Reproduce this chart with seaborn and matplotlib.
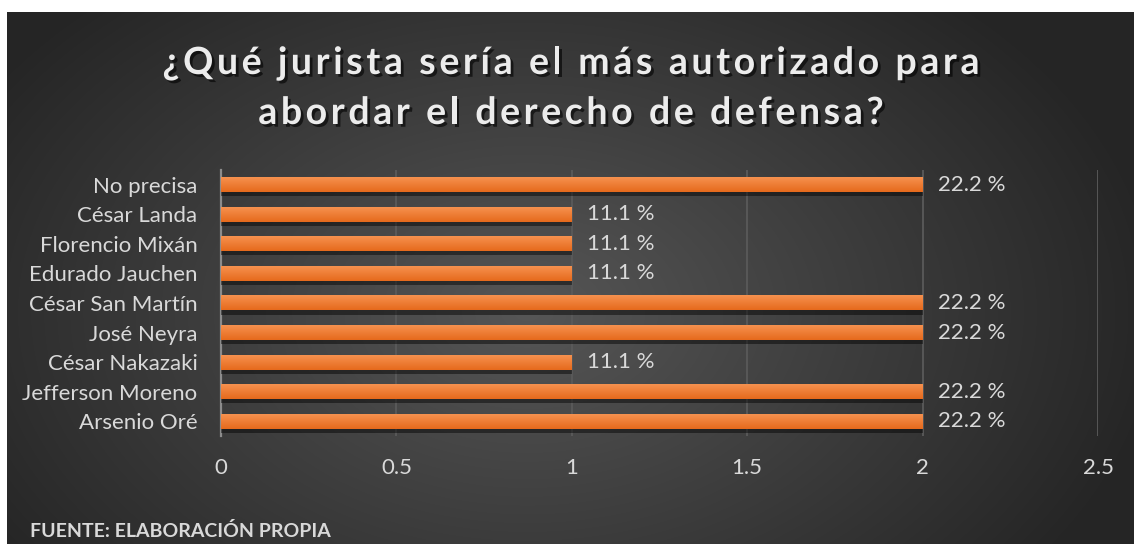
import numpy as np
import pandas as pd
import matplotlib
matplotlib.use('Agg')
import matplotlib.pyplot as plt
import matplotlib.patheffects as pe
from matplotlib.colors import LinearSegmentedColormap
import seaborn as sns

# datos
juristas = ["No precisa", "César Landa", "Florencio Mixán", "Edurado Jauchen",
            "César San Martín", "José Neyra", "César Nakazaki", "Jefferson Moreno",
            "Arsenio Oré"]
frecuencia = [2, 1, 1, 1, 2, 2, 1, 2, 2]
porcentaje = ["22.2 %", "11.1 %", "11.1 %", "11.1 %", "22.2 %", "22.2 %",
              "11.1 %", "22.2 %", "22.2 %"]
x_ticks = [0, 0.5, 1, 1.5, 2, 2.5]
x_tick_labels = ["0", "0.5", "1", "1.5", "2", "2.5"]

titulo = ["¿Qué jurista sería el más autorizado para",
          "abordar el derecho de defensa?"]
fuente = "FUENTE: ELABORACIÓN PROPIA"

sns.set_style("dark")
plt.rcParams['font.family'] = ['Lato', 'DejaVu Sans']

W, H = 1134, 544
fig = plt.figure(figsize=(W / 100, H / 100), dpi=100, facecolor='white')


def texto_espaciado(fig, linea, xc, yc, tracking, **kw):
    """Escribe una linea centrada en (xc, yc) px con espacio extra entre letras."""
    renderer = fig.canvas.get_renderer()

    def ancho(s):
        t = fig.text(0, 0, s + '|', **kw)
        w1 = t.get_window_extent(renderer).width
        t.remove()
        return w1

    base = ancho('')
    pos = [ancho(linea[:i]) - base for i in range(len(linea))]
    total = ancho(linea) - base + tracking * (len(linea) - 1)
    x0 = xc - total / 2
    for i, ch in enumerate(linea):
        fig.text((x0 + pos[i] + i * tracking) / W, 1 - yc / H, ch,
                 ha='left', va='center', **kw)


# fondo oscuro con degradado radial
bg = fig.add_axes([7 / W, 0, 1 - 7 / W, 1 - 12 / H])
bg.set_axis_off()
h, w = H - 12, W - 7
yy, xx = np.mgrid[0:h, 0:w]
r = np.sqrt(((xx - 520) / 640) ** 2 + ((yy - 300) / 430) ** 2)
r = np.clip(r, 0, 1)
c0, c1 = 0x56 / 255, 0x25 / 255
img = c0 + (c1 - c0) * r
bg.imshow(np.dstack([img, img, img]), aspect='auto', interpolation='bilinear')

ax = fig.add_axes([221 / W, 1 - 436 / H, 877 / W, 266 / H])
ax.set_facecolor('none')

df = pd.DataFrame({'jurista': juristas, 'frecuencia': frecuencia})
sns.barplot(data=df, x='frecuencia', y='jurista', orient='h', width=0.5,
            color='#ED7D31', linewidth=0, ax=ax, zorder=3)

naranja = LinearSegmentedColormap.from_list('naranja', ['#E66A1C', '#F6914F'])
for bar in ax.patches:
    x0, y0 = bar.get_x(), bar.get_y()
    bw, bh = bar.get_width(), bar.get_height()
    bar.set_path_effects([pe.SimplePatchShadow(offset=(0, -3), shadow_rgbFace='black', alpha=0.45),
                          pe.Normal()])
    grad = np.linspace(1, 0, 50).reshape(-1, 1)
    ax.imshow(grad, cmap=naranja, extent=[x0, x0 + bw, y0 + bh, y0],
              aspect='auto', zorder=4, clip_path=bar, clip_on=True)

ax.set_xlim(0, 2.5)
ax.set_ylim(len(juristas) - 0.5, -0.5)
ax.set_xticks(x_ticks)
ax.set_xticklabels(x_tick_labels)
ax.set_xlabel('')
ax.set_ylabel('')

ax.xaxis.grid(True, color='#5a5a5a', linewidth=1.3, zorder=0)
ax.yaxis.grid(False)
ax.set_axisbelow(True)
for side in ['top', 'right', 'bottom']:
    ax.spines[side].set_visible(False)
ax.spines['left'].set_visible(True)
ax.spines['left'].set_color('#8c8c8c')
ax.spines['left'].set_linewidth(1.6)

ax.tick_params(axis='x', length=0, pad=16, labelsize=16, labelcolor='#d9d9d9')
ax.tick_params(axis='y', length=0, pad=17, labelsize=16, labelcolor='#d9d9d9')

ax.bar_label(ax.containers[0], labels=porcentaje, padding=11,
             color='#d9d9d9', fontsize=16)

sombra = [pe.withSimplePatchShadow(offset=(2, -2), shadow_rgbFace='black', alpha=0.6)]
for linea, yc in zip(titulo, [63, 113]):
    texto_espaciado(fig, linea, 571, yc, 3.6, fontsize=27, fontweight='bold',
                    color='#ececec', path_effects=sombra)

fig.text(30 / W, 1 - 531 / H, fuente, ha='left', va='center', fontsize=14,
         fontweight='bold', color='#d9d9d9')

fig.savefig('out.png', dpi=100, facecolor='white')
